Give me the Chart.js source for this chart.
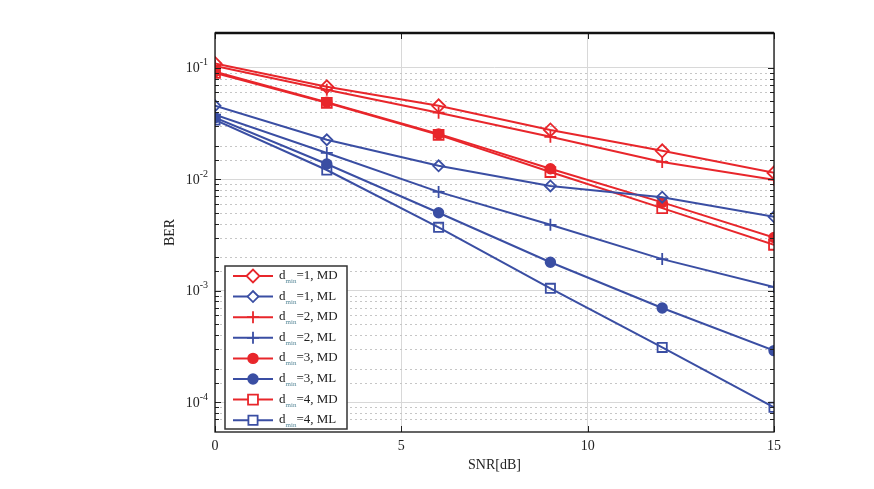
<!DOCTYPE html>
<html>
<head>
<meta charset="utf-8">
<script src="https://cdn.jsdelivr.net/npm/chart.js@4.4.0/dist/chart.umd.min.js"></script>
<style>
html,body{margin:0;padding:0;background:#fff;}
#wrap{width:874px;height:489px;}
</style>
</head>
<body>
<div id="wrap"><canvas id="c" width="874" height="489"></canvas></div>
<script>
const snr = [0, 3, 6, 9, 12, 15];
const d1MD = [0.109, 0.0675, 0.0456, 0.0277, 0.0180, 0.0114];
const d1ML = [0.0456, 0.0226, 0.0132, 0.0087, 0.0069, 0.0046];
const d2MD = [0.104, 0.0634, 0.0395, 0.0240, 0.0143, 0.0099];
const d2ML = [0.038, 0.0172, 0.0077, 0.0039, 0.00192, 0.00108];
const d3MD = [0.092, 0.0490, 0.0255, 0.0124, 0.0062, 0.0030];
const d3ML = [0.0356, 0.0137, 0.0050, 0.0018, 0.00070, 0.00029];
const d4MD = [0.090, 0.0485, 0.0250, 0.0116, 0.0055, 0.00258];
const d4ML = [0.034, 0.0121, 0.0037, 0.00105, 0.00031, 0.00009];
const seriesLabels = ['=1, MD', '=1, ML', '=2, MD', '=2, ML', '=3, MD', '=3, ML', '=4, MD', '=4, ML'];
const xTicks = [0, 5, 10, 15];
const yDecades = [1e-4, 1e-3, 1e-2, 1e-1];
const yExpLabels = ['-4', '-3', '-2', '-1'];
const xTitle = 'SNR[dB]';
const yTitle = 'BER';

const RED = '#e8262b';
const BLUE = '#3a4ea3';
const serif = '"Liberation Serif", "DejaVu Serif", serif';

function ds(label, data, color, style, radius, fill) {
  return {
    label: label,
    data: snr.map((x, i) => ({x: x, y: data[i]})),
    borderColor: color,
    backgroundColor: fill ? color : '#ffffff',
    pointBackgroundColor: fill ? color : 'rgba(255,255,255,0)',
    pointBorderColor: color,
    pointStyle: style,
    pointRadius: radius,
    pointBorderWidth: 1.8,
    borderWidth: 2,
    tension: 0,
    fill: false
  };
}

const datasets = [
  ds(seriesLabels[0], d1MD, RED, 'rectRot', 6.5, false),
  ds(seriesLabels[1], d1ML, BLUE, 'rectRot', 5.5, false),
  ds(seriesLabels[2], d2MD, RED, 'cross', 6, false),
  ds(seriesLabels[3], d2ML, BLUE, 'cross', 6, false),
  ds(seriesLabels[4], d3MD, RED, 'circle', 4.8, true),
  ds(seriesLabels[5], d3ML, BLUE, 'circle', 4.8, true),
  ds(seriesLabels[6], d4MD, RED, 'rect', 7, false),
  ds(seriesLabels[7], d4ML, BLUE, 'rect', 6.5, false)
];

function isDecade(v) {
  const l = Math.log10(v);
  return Math.abs(l - Math.round(l)) < 1e-6;
}
function inRange(v) { return v > 6e-5 && v < 0.15; }

const minorGridPlugin = {
  id: 'minorGrid',
  beforeDatasetsDraw(chart) {
    const {ctx, chartArea: a} = chart;
    const ys = chart.scales.y;
    ctx.save();
    ctx.strokeStyle = '#c6c6c6';
    ctx.lineWidth = 1;
    ctx.setLineDash([2, 3]);
    ys.ticks.forEach(t => {
      if (isDecade(t.value) || !inRange(t.value)) return;
      const py = Math.round(ys.getPixelForValue(t.value)) + 0.5;
      ctx.beginPath();
      ctx.moveTo(a.left, py);
      ctx.lineTo(a.right, py);
      ctx.stroke();
    });
    ctx.restore();
  }
};

const framePlugin = {
  id: 'frame',
  afterDatasetsDraw(chart) {
    const {ctx, chartArea: a} = chart;
    const ys = chart.scales.y;
    const xs = chart.scales.x;
    ctx.save();
    ctx.strokeStyle = '#222';
    ctx.lineWidth = 1;
    ys.ticks.forEach(t => {
      if (!inRange(t.value)) return;
      const py = Math.round(ys.getPixelForValue(t.value)) + 0.5;
      const len = isDecade(t.value) ? 6 : 4;
      ctx.beginPath();
      ctx.moveTo(a.left, py); ctx.lineTo(a.left + len, py);
      ctx.moveTo(a.right, py); ctx.lineTo(a.right - len, py);
      ctx.stroke();
    });
    xTicks.forEach(v => {
      const px = Math.round(xs.getPixelForValue(v)) + 0.5;
      ctx.beginPath();
      ctx.moveTo(px, a.top); ctx.lineTo(px, a.top + 6);
      ctx.moveTo(px, a.bottom); ctx.lineTo(px, a.bottom - 6);
      ctx.stroke();
    });
    ctx.strokeStyle = '#111';
    ctx.lineWidth = 1.3;
    ctx.strokeRect(a.left, a.top, a.right - a.left, a.bottom - a.top);
    ctx.lineWidth = 2.5;
    ctx.beginPath();
    ctx.moveTo(a.left, a.top);
    ctx.lineTo(a.right, a.top);
    ctx.stroke();
    ctx.fillStyle = '#222';
    ctx.textBaseline = 'middle';
    yDecades.forEach((v, i) => {
      const py = ys.getPixelForValue(v);
      ctx.font = '10px ' + serif;
      ctx.textAlign = 'right';
      const ex = yExpLabels[i];
      const ew = ctx.measureText(ex).width;
      ctx.fillText(ex, a.left - 7, py - 5);
      ctx.font = '14px ' + serif;
      ctx.fillText('10', a.left - 7 - ew, py + 1);
    });
    ctx.restore();
  }
};

const legendPlugin = {
  id: 'customLegend',
  afterDraw(chart) {
    const ctx = chart.ctx;
    const bx = 225, by = 266, bw = 122, bh = 163;
    ctx.save();
    ctx.fillStyle = '#fff';
    ctx.fillRect(bx, by, bw, bh);
    ctx.strokeStyle = '#333';
    ctx.lineWidth = 1.5;
    ctx.strokeRect(bx, by, bw, bh);
    chart.data.datasets.forEach((d, i) => {
      const cy = by + 10 + i * 20.6;
      ctx.strokeStyle = d.borderColor;
      ctx.lineWidth = 2;
      ctx.beginPath();
      ctx.moveTo(bx + 8, cy);
      ctx.lineTo(bx + 48, cy);
      ctx.stroke();
      ctx.fillStyle = d.pointBackgroundColor.indexOf('rgba') === 0 ? '#fff' : d.pointBackgroundColor;
      ctx.strokeStyle = d.pointBorderColor;
      ctx.lineWidth = d.pointBorderWidth;
      Chart.helpers.drawPoint(ctx, {pointStyle: d.pointStyle, radius: d.pointRadius, borderWidth: d.pointBorderWidth, rotation: 0}, bx + 28, cy);
      ctx.fillStyle = '#222';
      ctx.textAlign = 'left';
      ctx.textBaseline = 'alphabetic';
      ctx.font = '13px ' + serif;
      let tx = bx + 54;
      ctx.fillText('d', tx, cy + 3);
      tx += ctx.measureText('d').width;
      ctx.font = '7px ' + serif;
      ctx.fillStyle = '#5a8a9a';
      ctx.fillText('min', tx, cy + 7);
      tx += ctx.measureText('min').width;
      ctx.fillStyle = '#222';
      ctx.font = '13px ' + serif;
      ctx.fillText(d.label, tx, cy + 3);
    });
    ctx.restore();
  }
};

new Chart(document.getElementById('c'), {
  type: 'line',
  data: {datasets: datasets},
  plugins: [minorGridPlugin, framePlugin, legendPlugin],
  options: {
    responsive: false,
    animation: false,
    devicePixelRatio: 1,
    layout: {padding: {left: 158, right: 100, top: 33, bottom: 11}},
    plugins: {legend: {display: false}, tooltip: {enabled: false}},
    scales: {
      x: {
        type: 'linear',
        min: 0, max: 15,
        afterBuildTicks(scale) { scale.ticks = xTicks.map(v => ({value: v})); },
        afterFit(scale) { scale.height = 46; },
        ticks: {
          font: {family: serif, size: 14},
          color: '#222',
          padding: 6,
          maxRotation: 0,
          callback: v => String(v)
        },
        grid: {color: '#d8d8d8', lineWidth: 1, drawTicks: false},
        border: {display: false},
        title: {display: true, text: xTitle, font: {family: serif, size: 14}, color: '#222', padding: {top: 4, bottom: 4}}
      },
      y: {
        type: 'logarithmic',
        min: 5.4e-5, max: 0.205,
        afterFit(scale) { scale.width = 57; },
        ticks: {display: false, autoSkip: false},
        grid: {
          drawTicks: false,
          color: ctx => (ctx.tick && isDecade(ctx.tick.value)) ? '#d8d8d8' : 'rgba(0,0,0,0)'
        },
        border: {display: false},
        title: {display: true, text: yTitle, font: {family: serif, size: 14}, color: '#222', padding: {top: 4, bottom: 4}}
      }
    }
  }
});
</script>
</body>
</html>
